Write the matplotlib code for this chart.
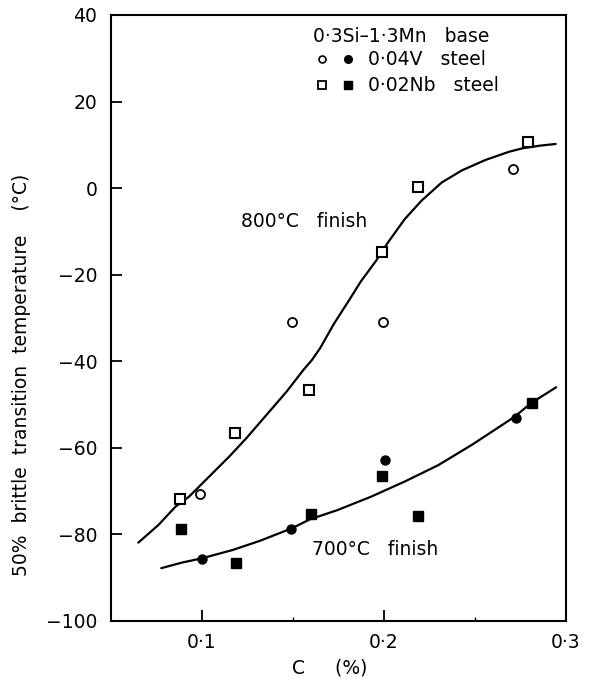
import matplotlib
matplotlib.use("Agg")
import matplotlib.pyplot as plt

# ---- data ----
v800_x = [0.099, 0.1496, 0.1996, 0.2706]
v800_y = [-70.7, -31.0, -30.9, 4.4]
nb800_x = [0.088, 0.118, 0.159, 0.199, 0.2185, 0.279]
nb800_y = [-71.9, -56.6, -46.6, -14.7, 0.3, 10.6]
v700_x = [0.100, 0.149, 0.2007, 0.2726]
v700_y = [-85.7, -78.7, -62.8, -53.0]
nb700_x = [0.0885, 0.1189, 0.1598, 0.199, 0.2185, 0.2815]
nb700_y = [-78.8, -86.7, -75.4, -66.5, -75.7, -49.6]

curve800_x = [0.0650, 0.0761, 0.0854, 0.0928, 0.1057, 0.1150, 0.1243, 0.1354,
              0.1465, 0.1557, 0.1604, 0.1650, 0.1724, 0.1817, 0.1872, 0.1956,
              0.2021, 0.2113, 0.2206, 0.2317, 0.2428, 0.2557, 0.2687, 0.2761,
              0.2854, 0.2943]
curve800_y = [-81.9, -77.8, -73.6, -71.3, -65.9, -62.0, -57.8, -52.4,
              -47.0, -42.0, -39.7, -36.9, -31.4, -25.3, -21.6, -16.8,
              -12.6, -7.2, -2.9, 1.3, 4.1, 6.5, 8.4, 9.2,
              9.8, 10.2]
curve700_x = [0.0776, 0.0891, 0.1002, 0.1168, 0.1317, 0.1493, 0.1594, 0.1743,
              0.1928, 0.2113, 0.2298, 0.2483, 0.2715, 0.2807, 0.2946]
curve700_y = [-87.8, -86.5, -85.5, -83.6, -81.5, -78.6, -76.5, -74.4,
              -71.3, -67.8, -64.0, -59.3, -52.9, -49.7, -46.0]

x_ticks = [0.1, 0.2, 0.3]
x_ticklabels = ["0·1", "0·2", "0·3"]
y_ticks = [40, 20, 0, -20, -40, -60, -80, -100]
y_ticklabels = ["40", "20", "0", "−20", "−40", "−60", "−80", "−100"]

plt.rcParams['font.family'] = ['DejaVu Sans']
fig = plt.figure(figsize=(5.94, 6.87), dpi=100)
ax = fig.add_axes([0.1869, 0.0961, 0.9529 - 0.1869, 0.9782 - 0.0961])

ax.plot(curve800_x, curve800_y, color='black', lw=1.6, zorder=2,
        solid_joinstyle='round', solid_capstyle='round')
ax.plot(curve700_x, curve700_y, color='black', lw=1.6, zorder=2,
        solid_joinstyle='round', solid_capstyle='round')

ax.plot(v800_x, v800_y, 'o', ms=6.5, mfc='white', mec='black', mew=1.3, ls='none', zorder=3)
ax.plot(nb800_x, nb800_y, 's', ms=7, mfc='white', mec='black', mew=1.5, ls='none', zorder=3)
ax.plot(v700_x, v700_y, 'o', ms=6.5, mfc='black', mec='black', ls='none', zorder=3)
ax.plot(nb700_x, nb700_y, 's', ms=6.5, mfc='black', mec='black', ls='none', zorder=3)

# legend drawn as text block
fs = 13.5
ax.text(0.1611, 35.0, "0·3Si–1·3Mn   base", fontsize=fs, va='center', ha='left')
ax.plot([0.166], [29.8], 'o', ms=5, mfc='white', mec='black', mew=1.2)
ax.plot([0.1802], [29.8], 'o', ms=5.5, mfc='black', mec='black')
ax.text(0.191, 29.8, "0·04V   steel", fontsize=fs, va='center', ha='left')
ax.plot([0.166], [23.8], 's', ms=6, mfc='white', mec='black', mew=1.3)
ax.plot([0.1802], [23.8], 's', ms=5.5, mfc='black', mec='black')
ax.text(0.191, 23.8, "0·02Nb   steel", fontsize=fs, va='center', ha='left')

ax.text(0.1215, -7.6, "800°C   finish", fontsize=fs, va='center', ha='left')
ax.text(0.1604, -83.6, "700°C   finish", fontsize=fs, va='center', ha='left')

ax.set_xlim(0.05, 0.30)
ax.set_ylim(-100, 40)
ax.set_xticks(x_ticks)
ax.set_xticklabels(x_ticklabels)
ax.set_xticks([0.15, 0.25], minor=True)
ax.set_yticks(y_ticks)
ax.set_yticklabels(y_ticklabels)
ax.tick_params(axis='both', which='major', direction='in', length=8, width=1.3,
               labelsize=13.5, top=False, right=False)
ax.tick_params(axis='x', which='major', pad=9)
ax.tick_params(axis='y', which='major', pad=10)
ax.tick_params(axis='x', which='minor', direction='in', length=3, width=1.0)
for s in ax.spines.values():
    s.set_linewidth(1.5)

fig.text(22 / 594, 1 - 375 / 687, "50%  brittle  transition  temperature    (°C)",
         rotation=90, fontsize=13.5, ha='center', va='center')
fig.text(330 / 594, 1 - 668 / 687, "C     (%)", fontsize=13.5, ha='center', va='center')

fig.savefig("out.png", dpi=100)
